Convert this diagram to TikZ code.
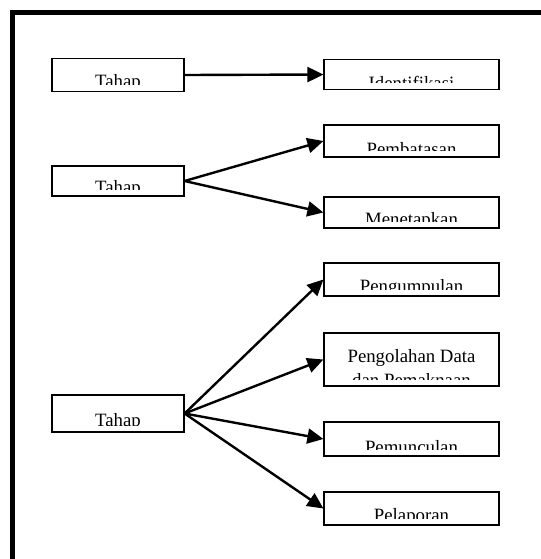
\documentclass[tikz,border=0pt]{standalone}
\usepackage{fontspec}
\setmainfont{Liberation Serif}
\usetikzlibrary{arrows.meta}
\newcommand{\teks}{\fontsize{9.4}{12}\selectfont}
\tikzset{
  kotak/.style={draw, line width=0.6pt, inner sep=0pt, minimum width=87.5pt,
    path picture={
      \clip (path picture bounding box.north west) rectangle ([yshift=3.5pt]path picture bounding box.south east);
      \node[anchor=north, inner sep=0pt, align=center, font=\teks] at ([yshift=-3.9pt]path picture bounding box.north) {#1};
    }},
  tahap/.style={kotak={#1}, minimum width=66pt},
  panah/.style={-{Triangle[length=8pt,width=7.5pt]}, line width=1.2pt},
}
\begin{document}
\begin{tikzpicture}[x=0.5pt,y=-0.5pt]
\useasboundingbox (0,0) rectangle (541,559);
\clip (0,0) rectangle (541,559);
\draw[line width=2.5pt] (12.5,12.5) rectangle (600,620);

\node[tahap=Tahap, minimum height=16.5pt] (tahapa) at (118,75) {};
\node[tahap=Tahap, minimum height=15pt] (tahapb) at (118,181) {};
\node[tahap=Tahap, minimum height=18.5pt] (tahapc) at (118,413.5) {};

\node[kotak=Identifikasi, minimum height=15pt] (iden) at (411.5,74.5) {};
\node[kotak=Pembatasan, minimum height=16pt] (batas) at (411.5,141) {};
\node[kotak=Menetapkan, minimum height=15.5pt] (tetap) at (411.5,212.5) {};
\node[kotak=Pengumpulan, minimum height=16.5pt] (kumpul) at (411.5,279.5) {};
\node[kotak={Pengolahan Data\\dan Pemaknaan}, minimum height=26.5pt] (olah) at (411.5,359.5) {};
\node[kotak=Pemunculan, minimum height=17pt] (muncul) at (411.5,439) {};
\node[kotak=Pelaporan, minimum height=16.5pt] (lapor) at (411.5,508.5) {};

\draw[panah] (tahapa.east) -- (iden.west);
\draw[panah] (tahapb.east) -- (batas.west);
\draw[panah] (tahapb.east) -- (tetap.west);
\draw[panah] (tahapc.east) -- (kumpul.west);
\draw[panah] (tahapc.east) -- (olah.west);
\draw[panah] (tahapc.east) -- (muncul.west);
\draw[panah] (tahapc.east) -- (lapor.west);
\end{tikzpicture}
\end{document}
